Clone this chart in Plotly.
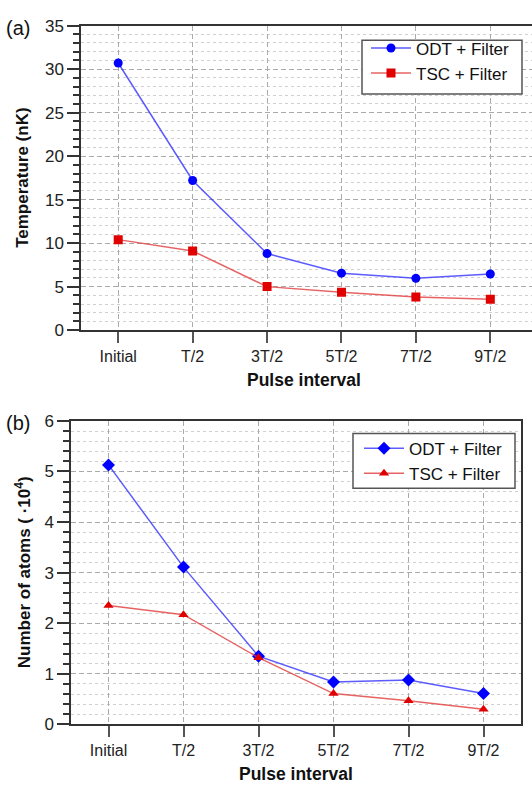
import plotly.graph_objects as go

categories = ["Initial", "T/2", "3T/2", "5T/2", "7T/2", "9T/2"]
temp_odt = [30.7, 17.2, 8.8, 6.55, 5.95, 6.45]
temp_tsc = [10.4, 9.1, 5.0, 4.35, 3.8, 3.55]
atoms_odt = [5.13, 3.11, 1.35, 0.84, 0.88, 0.61]
atoms_tsc = [2.35, 2.17, 1.32, 0.61, 0.47, 0.30]

W, H = 532, 794
FONT = "Liberation Sans, Arial, Helvetica, sans-serif"
xi = list(range(len(categories)))

BLUE_LINE = "rgba(50,50,255,0.8)"
RED_LINE = "rgba(225,60,60,0.8)"
BLUE = "#0000ff"
RED = "#e00000"

fig = go.Figure()
fig.add_trace(go.Scatter(x=xi, y=temp_odt, name="ODT + Filter", mode="lines+markers",
                         line=dict(color=BLUE_LINE, width=1.5),
                         marker=dict(symbol="circle", size=9, color=BLUE),
                         xaxis="x", yaxis="y", legend="legend"))
fig.add_trace(go.Scatter(x=xi, y=temp_tsc, name="TSC + Filter", mode="lines+markers",
                         line=dict(color=RED_LINE, width=1.5),
                         marker=dict(symbol="square", size=9, color=RED),
                         xaxis="x", yaxis="y", legend="legend"))
fig.add_trace(go.Scatter(x=xi, y=atoms_odt, name="ODT + Filter", mode="lines+markers",
                         line=dict(color=BLUE_LINE, width=1.5),
                         marker=dict(symbol="diamond", size=10, color=BLUE),
                         xaxis="x2", yaxis="y2", legend="legend2"))
fig.add_trace(go.Scatter(x=xi, y=atoms_tsc, name="TSC + Filter", mode="lines+markers",
                         line=dict(color=RED_LINE, width=1.5),
                         marker=dict(symbol="triangle-up", size=9, color=RED),
                         xaxis="x2", yaxis="y2", legend="legend2"))

def px_x(p):
    return p / W

def px_y(p):
    return 1 - p / H

axis_common = dict(showline=True, linecolor="#333333", linewidth=1.5, zeroline=False)

xgrid = dict(showgrid=True, gridcolor="#aaaaaa", gridwidth=1, griddash="5px,3px",
             ticks="outside", ticklen=11, tickwidth=1.5, tickcolor="#555555",
             tickmode="array", tickvals=xi, ticktext=categories,
             tickfont=dict(family=FONT, size=16, color="#222222"))

yfont = dict(family=FONT, size=17, color="#222222")

fig.update_layout(
    width=W, height=H,
    margin=dict(l=0, r=0, t=0, b=0),
    paper_bgcolor="white", plot_bgcolor="white",
    font=dict(family=FONT, color="#222222"),
    xaxis=dict(domain=[px_x(81), 1.0], range=[-0.5, 5.56], anchor="y",
               mirror=True, **xgrid, **axis_common),
    yaxis=dict(domain=[px_y(329), px_y(17)], range=[0, 35], anchor="x",
               tickmode="linear", tick0=0, dtick=5, tickfont=yfont,
               ticks="outside", ticklen=12, tickwidth=1.5, tickcolor="#333333",
               showgrid=True, gridcolor="#aaaaaa", gridwidth=1, griddash="5px,3px",
               minor=dict(dtick=1, ticks="outside", ticklen=6, tickcolor="#333333",
                          showgrid=True, gridcolor="#d0d0d0", griddash="dot", gridwidth=1),
               **axis_common),
    xaxis2=dict(domain=[px_x(71), px_x(521)], range=[-0.5, 5.5], anchor="y2",
                mirror=True, **xgrid, **axis_common),
    yaxis2=dict(domain=[px_y(733), px_y(422)], range=[0, 6], anchor="x2",
                mirror=True, tickfont=yfont,
                tickmode="linear", tick0=0, dtick=1,
                ticks="outside", ticklen=12, tickwidth=1.5, tickcolor="#333333",
                showgrid=True, gridcolor="#aaaaaa", gridwidth=1, griddash="5px,3px",
                minor=dict(dtick=0.2, ticks="outside", ticklen=6, tickcolor="#333333",
                           showgrid=True, gridcolor="#d0d0d0", griddash="dot", gridwidth=1),
                **axis_common),
    legend=dict(x=px_x(366), y=px_y(22), xanchor="left", yanchor="top",
                bgcolor="rgba(0,0,0,0)", borderwidth=0,
                font=dict(family=FONT, size=17, color="#111111"),
                tracegroupgap=0, itemwidth=40),
    legend2=dict(x=px_x(359), y=px_y(432), xanchor="left", yanchor="top",
                 bgcolor="rgba(0,0,0,0)", borderwidth=0,
                 font=dict(family=FONT, size=17, color="#111111"),
                 tracegroupgap=0, itemwidth=40),
    showlegend=True,
)

shapes = [
    dict(type="rect", xref="paper", yref="paper", layer="above",
         x0=px_x(362), x1=px_x(522), y0=px_y(87), y1=px_y(32),
         fillcolor="white", line=dict(color="#555555", width=1.5)),
    dict(type="rect", xref="paper", yref="paper", layer="above",
         x0=px_x(353), x1=px_x(515), y0=px_y(491), y1=px_y(435),
         fillcolor="white", line=dict(color="#555555", width=1.5)),
]

ann = []
ann.append(dict(text="(a)", x=px_x(4), y=px_y(19), xref="paper", yref="paper",
                xanchor="left", yanchor="middle", showarrow=False,
                font=dict(family=FONT, size=20, color="#111111")))
ann.append(dict(text="(b)", x=px_x(4), y=px_y(424), xref="paper", yref="paper",
                xanchor="left", yanchor="middle", showarrow=False,
                font=dict(family=FONT, size=20, color="#111111")))
ann.append(dict(text="<b>Pulse interval</b>", x=px_x(304), y=px_y(380), xref="paper", yref="paper",
                xanchor="center", yanchor="middle", showarrow=False,
                font=dict(family=FONT, size=17.5, color="#111111")))
ann.append(dict(text="<b>Pulse interval</b>", x=px_x(296), y=px_y(784), xref="paper", yref="paper",
                xanchor="center", yanchor="middle", showarrow=False,
                font=dict(family=FONT, size=17.5, color="#111111")))
ann.append(dict(text="<b>Temperature (nK)</b>", x=px_x(23), y=px_y(173), xref="paper", yref="paper",
                xanchor="center", yanchor="middle", showarrow=False, textangle=-90,
                font=dict(family=FONT, size=17, color="#111111")))
ann.append(dict(text="<b>Number of atoms ( \u00b710<sup>4</sup>)</b>", x=px_x(23), y=px_y(577),
                xref="paper", yref="paper",
                xanchor="center", yanchor="middle", showarrow=False, textangle=-90,
                font=dict(family=FONT, size=17, color="#111111")))
fig.update_layout(annotations=ann, shapes=shapes)

fig.write_html("out.html")
